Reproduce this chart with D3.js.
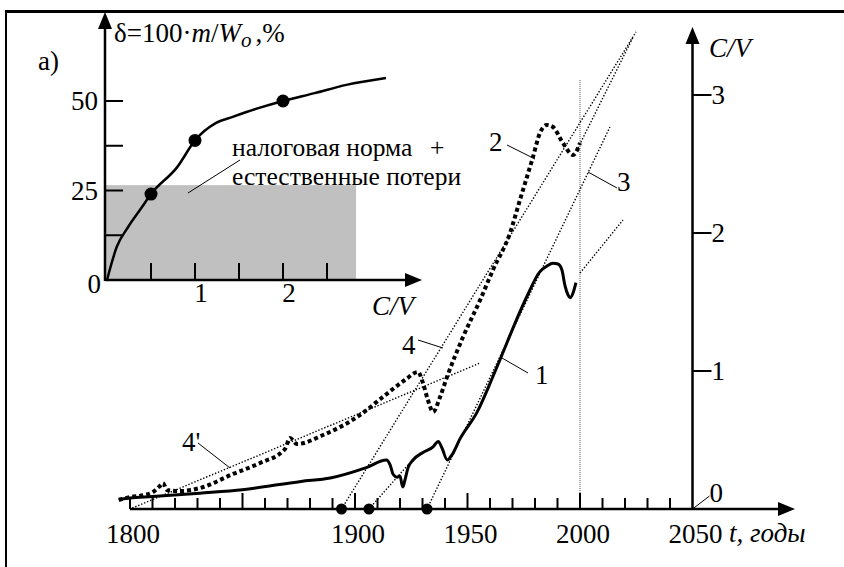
<!DOCTYPE html>
<html>
<head>
<meta charset="utf-8">
<title>C/V</title>
<script src="https://d3js.org/d3.v7.min.js"></script>
</head>
<body style="margin:0;background:#fff">
<script>
// main chart: years / C/V
var c1Years = [1795, 1800, 1810, 1831, 1850, 1876, 1889, 1905, 1914, 1915.6, 1917, 1918.7, 1920, 1920.9, 1921.3, 1922.2, 1923.6, 1925.8, 1930.2, 1934.7, 1937, 1938.7, 1941, 1943, 1946.7, 1954.2, 1961.3, 1964.4, 1972, 1976.4, 1982.2, 1985.3, 1988, 1990.2, 1992, 1993.3, 1994.7, 1995.6, 1996.9, 1998.2];
var c1Vals  = [0.07, 0.08, 0.09, 0.115, 0.14, 0.2, 0.225, 0.3, 0.355, 0.32, 0.25, 0.23, 0.24, 0.175, 0.16, 0.21, 0.3, 0.355, 0.41, 0.45, 0.49, 0.44, 0.355, 0.39, 0.51, 0.7, 0.96, 1.08, 1.38, 1.54, 1.72, 1.76, 1.78, 1.775, 1.73, 1.62, 1.55, 1.53, 1.565, 1.64];

var c2Years = [1795, 1800, 1805.8, 1810.2, 1813.3, 1814.7, 1816.4, 1822.2, 1831.1, 1845.8, 1857.8, 1868.9, 1871.1, 1874.2, 1885.8, 1902.2, 1912.4, 1922.2, 1928, 1930.2, 1932.4, 1934.7, 1937.8, 1940.9, 1948, 1955.6, 1961.3, 1968.9, 1973.3, 1979.1, 1982.2, 1985.3, 1988, 1992.4, 1996.9, 2000];
var c2Vals  = [0.065, 0.087, 0.1, 0.123, 0.167, 0.188, 0.138, 0.13, 0.152, 0.254, 0.333, 0.435, 0.515, 0.471, 0.536, 0.681, 0.812, 0.935, 0.993, 0.913, 0.79, 0.703, 0.812, 0.957, 1.246, 1.514, 1.732, 2.0, 2.239, 2.551, 2.725, 2.783, 2.768, 2.652, 2.565, 2.652];

// straight trend lines [year0, value0, year1, value1]
var trendLines = [
  [1801, 0.007, 1955.6, 1.058],
  [1894, 0, 2024.9, 3.457],
  [1906.2, 0, 1923.6, 0.32],
  [1932, 0, 2013.3, 2.768],
  [2000, 1.71, 2019.1, 2.094],
  [1999.1, 2.616, 2023.6, 3.42]
];
var startYears = [1894, 1906.2, 1932];

var minorTicks = d3.range(1800, 2050, 10);
var majorTicks = [1850, 1900, 1950, 2000];
var yearLabels = [1800, 1900, 1950, 2000, 2050];
var cvTicks = [1, 2, 3];

// inset: C/V vs delta, %
var insetCV    = [0, 0.11, 0.24, 0.39, 0.5, 0.8, 1.0, 1.24, 1.42, 1.72, 2.0, 2.36, 2.72, 3.17];
var insetDelta = [0, 9.2, 14.8, 20.1, 24, 31.6, 39, 43.9, 45.5, 48, 50, 52.2, 54.5, 56.4];
var insetDotsCV = [0.5, 1, 2];
var insetDotsD  = [24, 39, 50];
var insetXTicks = [0.5, 1, 1.5, 2, 2.5];
var insetYTicks = [12.5, 25, 37.5, 50];
var insetYLabels = [25, 50];
var insetXLabels = [1, 2];
var taxNorm = [2.83, 26.5];

var W = 844, H = 567;
var FONT = "Liberation Serif, Times New Roman, DejaVu Serif, serif";
var FS = 27;
var svg = d3.select("body").append("svg").attr("width", W).attr("height", H)
  .style("display", "block");

function txt(sel, italic) {
  return sel.append("text").style("font-family", FONT).style("font-size", FS + "px")
    .style("font-style", italic ? "italic" : "normal").attr("fill", "#000");
}

// frame
svg.append("line").attr("x1", 5).attr("x2", W).attr("y1", 11.5).attr("y2", 11.5)
  .attr("stroke", "#000").attr("stroke-width", 3);
svg.append("line").attr("x1", 6).attr("x2", 6).attr("y1", 10).attr("y2", H)
  .attr("stroke", "#000").attr("stroke-width", 2);

var x = d3.scaleLinear().domain([1800, 2050]).range([130, 692.5]);
var y = d3.scaleLinear().domain([0, 3]).range([509, 95]);

var line = d3.line().x(function(d){ return x(d[0]); }).y(function(d){ return y(d[1]); })
  .curve(d3.curveMonotoneX);

// vertical 2000 line
svg.append("line").attr("x1", x(2000)).attr("x2", x(2000)).attr("y1", y(0)).attr("y2", y(3.11))
  .attr("stroke", "#555").attr("stroke-width", 1).attr("stroke-dasharray", "1,1");

// trend lines
svg.append("g").selectAll("line").data(trendLines).enter().append("line")
  .attr("x1", function(d){ return x(d[0]); }).attr("y1", function(d){ return y(d[1]); })
  .attr("x2", function(d){ return x(d[2]); }).attr("y2", function(d){ return y(d[3]); })
  .attr("stroke", "#000").attr("stroke-width", 1.4).attr("stroke-dasharray", "1.4,1.8");

// curve 2 (thick dotted)
svg.append("path").datum(d3.zip(c2Years, c2Vals)).attr("d", line)
  .attr("fill", "none").attr("stroke", "#000").attr("stroke-width", 4).attr("stroke-dasharray", "4,3");

// curve 1 (solid)
svg.append("path").datum(d3.zip(c1Years, c1Vals)).attr("d", line)
  .attr("fill", "none").attr("stroke", "#000").attr("stroke-width", 3);

// x axis
var ax = svg.append("g");
ax.append("line").attr("x1", x(1800)).attr("x2", 780).attr("y1", y(0)).attr("y2", y(0))
  .attr("stroke", "#000").attr("stroke-width", 2.5);
ax.append("path").attr("d", "M795," + y(0) + "L778," + (y(0) - 7) + "L778," + (y(0) + 7) + "Z");
ax.selectAll(".mt").data(minorTicks).enter().append("line")
  .attr("x1", function(d){ return x(d); }).attr("x2", function(d){ return x(d); })
  .attr("y1", y(0)).attr("y2", function(d){ return majorTicks.indexOf(d) >= 0 ? y(0) - 16 : y(0) - 11; })
  .attr("stroke", "#000").attr("stroke-width", 2);
yearLabels.forEach(function(d){
  txt(ax).attr("x", x(d) + 3).attr("y", 543).attr("text-anchor", "middle").text(d);
});
txt(ax, true).attr("x", 729).attr("y", 542).text("t, годы");

// dots on x axis
svg.selectAll(".sd").data(startYears).enter().append("circle")
  .attr("cx", function(d){ return x(d); }).attr("cy", y(0)).attr("r", 5.5).attr("fill", "#000");

// right C/V axis
var ay = svg.append("g");
ay.append("line").attr("x1", x(2050)).attr("x2", x(2050)).attr("y1", y(0)).attr("y2", 40)
  .attr("stroke", "#000").attr("stroke-width", 2.5);
ay.append("path").attr("d", "M" + x(2050) + ",27L" + (x(2050) - 7) + ",44L" + (x(2050) + 7) + ",44Z");
ay.selectAll(".t").data(cvTicks).enter().append("line")
  .attr("x1", x(2050)).attr("x2", x(2050) + 19)
  .attr("y1", function(d){ return y(d); }).attr("y2", function(d){ return y(d); })
  .attr("stroke", "#000").attr("stroke-width", 2);
cvTicks.forEach(function(d){
  txt(ay).attr("x", x(2050) + 19).attr("y", y(d) + 9).text(d);
});
ay.append("line").attr("x1", x(2050)).attr("y1", y(0)).attr("x2", x(2050) + 17).attr("y2", y(0) - 13)
  .attr("stroke", "#000").attr("stroke-width", 1);
txt(ay).attr("x", x(2050) + 17).attr("y", 502).text("0");
txt(ay, true).attr("x", 709).attr("y", 57).text("C/V");

// curve labels with leaders
var labels = [
  { t: "2",  tx: 489, ty: 151, l: [507, 145, 535, 159] },
  { t: "3",  tx: 617, ty: 191, l: [588, 172, 617, 188] },
  { t: "4",  tx: 402, ty: 354, l: [418, 340, 443, 348] },
  { t: "1",  tx: 535, ty: 384, l: [502, 358, 528, 373] },
  { t: "4'", tx: 182, ty: 451, l: [198, 443, 230, 468] }
];
labels.forEach(function(d){
  svg.append("line").attr("x1", d.l[0]).attr("y1", d.l[1]).attr("x2", d.l[2]).attr("y2", d.l[3])
    .attr("stroke", "#000").attr("stroke-width", 1);
  txt(svg).attr("x", d.tx).attr("y", d.ty).text(d.t);
});

// ---------- inset ----------
var xi = d3.scaleLinear().domain([0, 1]).range([107, 195]);
var yi = d3.scaleLinear().domain([0, 50]).range([280, 101]);
var gi = svg.append("g");

gi.append("rect").attr("x", xi(0) - 2).attr("y", yi(taxNorm[1]))
  .attr("width", xi(taxNorm[0]) - xi(0) + 2).attr("height", yi(0) - yi(taxNorm[1]))
  .attr("fill", "#c0c0c0");

gi.append("line").attr("x1", 105).attr("x2", 408).attr("y1", 280).attr("y2", 280)
  .attr("stroke", "#000").attr("stroke-width", 2.5);
gi.append("path").attr("d", "M422,280L405,273L405,287Z");
gi.append("line").attr("x1", 105).attr("x2", 105).attr("y1", 281).attr("y2", 24)
  .attr("stroke", "#000").attr("stroke-width", 2.5);
gi.append("path").attr("d", "M105,12L98,29L112,29Z");

gi.selectAll(".xt").data(insetXTicks).enter().append("line")
  .attr("x1", function(d){ return xi(d); }).attr("x2", function(d){ return xi(d); })
  .attr("y1", 280).attr("y2", 263).attr("stroke", "#000").attr("stroke-width", 2);
gi.selectAll(".yt").data(insetYTicks).enter().append("line")
  .attr("x1", 105).attr("x2", 123)
  .attr("y1", function(d){ return yi(d); }).attr("y2", function(d){ return yi(d); })
  .attr("stroke", "#000").attr("stroke-width", 2);
insetYLabels.forEach(function(d){
  txt(gi).attr("x", 98).attr("y", yi(d) + 9).attr("text-anchor", "end").text(d);
});
txt(gi).attr("x", 101).attr("y", 293).attr("text-anchor", "end").text("0");
insetXLabels.forEach(function(d){
  txt(gi).attr("x", xi(d) + 6).attr("y", 302).attr("text-anchor", "middle").text(d);
});
txt(gi, true).attr("x", 372).attr("y", 315).text("C/V");

var iline = d3.line().x(function(d){ return xi(d[0]); }).y(function(d){ return yi(d[1]); })
  .curve(d3.curveMonotoneX);
gi.append("path").datum(d3.zip(insetCV, insetDelta)).attr("d", iline)
  .attr("fill", "none").attr("stroke", "#000").attr("stroke-width", 2.5);
gi.selectAll(".dot").data(d3.zip(insetDotsCV, insetDotsD)).enter().append("circle")
  .attr("cx", function(d){ return xi(d[0]); }).attr("cy", function(d){ return yi(d[1]); })
  .attr("r", 6.5).attr("fill", "#000");

gi.append("line").attr("x1", 188).attr("y1", 193).attr("x2", 240).attr("y2", 160)
  .attr("stroke", "#000").attr("stroke-width", 1);
txt(gi).attr("x", 232).attr("y", 156).style("font-size", "25.5px").text("налоговая норма");
txt(gi).attr("x", 430).attr("y", 156).style("font-size", "25.5px").text("+");
txt(gi).attr("x", 232).attr("y", 185).style("font-size", "25.5px").text("естественные потери");

var title = txt(gi).attr("x", 114).attr("y", 42);
title.append("tspan").text("δ=100·");
title.append("tspan").style("font-style", "italic").text("m");
title.append("tspan").text("/");
title.append("tspan").style("font-style", "italic").text("W");
title.append("tspan").style("font-style", "italic").style("font-size", "21px").attr("dy", 5).text("o");
title.append("tspan").attr("dy", -5).attr("dx", 4).text(",%");

txt(svg).attr("x", 38).attr("y", 70).text("а)");
</script>
</body>
</html>
